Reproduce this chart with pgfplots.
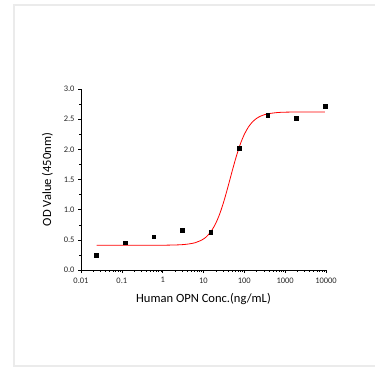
\documentclass[border=0pt]{standalone}
\usepackage{pgfplots}
\pgfplotsset{compat=1.18}
\usepackage{fontspec}
\setmainfont{Carlito}
\begin{document}
\begin{tikzpicture}[x=1bp,y=1bp]
\useasboundingbox (-81,-98) rectangle (294,270);
\draw[color=black!8, line width=2bp] (-67,265) rectangle (300,-96);
\begin{axis}[
  at={(0,0)}, anchor=south west,
  scale only axis, width=245bp, height=181bp,
  xmode=log, xmin=0.01, xmax=10000,
  ymin=0, ymax=3,
  axis x line=bottom, axis y line=left,
  axis line style={-, line width=0.6bp},
  tick align=outside,
  tick style={black, line width=0.5bp},
  major tick length=3bp, minor tick length=1.6bp,
  xtick={0.01,0.1,1,10,100,1000,10000},
  xticklabels={0.01,0.1,1,10,100,1000,10000},
  ytick={0,0.5,1,1.5,2,2.5,3},
  yticklabels={0.0,0.5,1.0,1.5,2.0,2.5,3.0},
  minor ytick={0.25,0.75,1.25,1.75,2.25,2.75},
  /pgf/number format/assume math mode=true,
  tick label style={font=\fontsize{8.5}{9}\selectfont, text=black!85},
  xticklabel style={yshift=-1bp},
  xlabel={Human OPN Conc.(ng/mL)},
  ylabel={OD Value (450nm)},
  label style={font=\fontsize{12.6}{14}\selectfont},
  xlabel style={yshift=-3bp},
  ylabel style={yshift=4bp},
  clip=false,
]
\addplot[only marks, mark=square*, mark size=1.9bp, black] coordinates {
(0.024,0.242) (0.12,0.452) (0.6,0.552) (3,0.657) (15,0.63)
(75,2.02) (375,2.57) (1875,2.52) (9375,2.72)};
\addplot[red, line width=0.8bp, smooth] coordinates {
(0.024,0.410) (0.1,0.410) (1,0.411) (3.162,0.421) (6.31,0.453)
(10,0.514) (12.59,0.571) (15.85,0.654) (19.95,0.773) (25.12,0.935)
(31.62,1.141) (39.81,1.381) (50.12,1.634) (63.10,1.875) (79.43,2.084)
(100,2.248) (125.9,2.370) (158.5,2.455) (199.5,2.513) (251.2,2.551)
(316.2,2.576) (398.1,2.592) (631,2.609) (1000,2.616) (3162,2.620) (9375,2.620)};
\end{axis}
\end{tikzpicture}
\end{document}
